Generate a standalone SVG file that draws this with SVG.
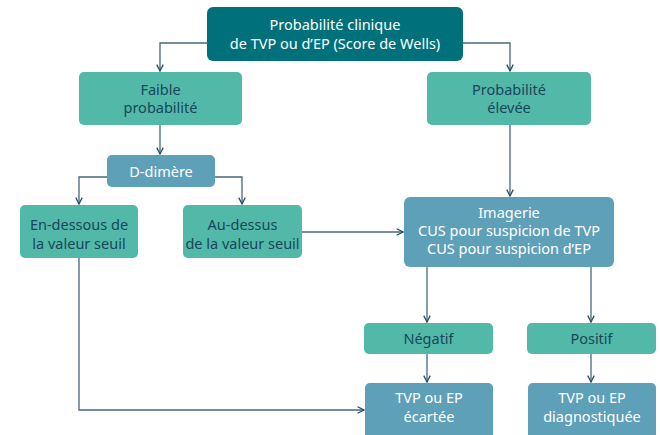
<svg xmlns="http://www.w3.org/2000/svg" width="660" height="435" viewBox="0 0 660 435">
  <defs>
    <marker id="arrow" viewBox="0 0 10 10" refX="9" refY="5" markerWidth="8" markerHeight="8" markerUnits="userSpaceOnUse" orient="auto">
      <path d="M1,1 L9,5 L1,9" fill="none" stroke="#244f60" stroke-width="1.6"/>
    </marker>
  </defs>
  <style>
    .dark { fill: #00717b; }
    .green { fill: #52b9a9; }
    .blue { fill: #5fa0b9; }
    text { font-family: "Noto Sans", "Open Sans", sans-serif; font-size: 14.5px; text-anchor: middle; }
    .light { fill: #ffffff; }
    .ink { fill: #17475a; }
    .edge { fill: none; stroke: #46697a; stroke-width: 1.3; }
  </style>
  <rect width="660" height="435" fill="#ffffff"/>

  <g id="connectors">
    <path class="edge" d="M207,43 H160 V71" marker-end="url(#arrow)"/>
    <path class="edge" d="M463,43 H510 V71" marker-end="url(#arrow)"/>
    <path class="edge" d="M160,125 V154" marker-end="url(#arrow)"/>
    <path class="edge" d="M107,177 H79 V204" marker-end="url(#arrow)"/>
    <path class="edge" d="M215,177 H242 V204" marker-end="url(#arrow)"/>
    <path class="edge" d="M302,232 H403" marker-end="url(#arrow)"/>
    <path class="edge" d="M510,125 V196" marker-end="url(#arrow)"/>
    <path class="edge" d="M427,267 V322" marker-end="url(#arrow)"/>
    <path class="edge" d="M591,267 V322" marker-end="url(#arrow)"/>
    <path class="edge" d="M427,354 V382" marker-end="url(#arrow)"/>
    <path class="edge" d="M591,354 V382" marker-end="url(#arrow)"/>
    <path class="edge" d="M79,258 V410 H364" marker-end="url(#arrow)"/>
  </g>

  <g id="wells">
    <rect class="dark" x="207" y="7" width="256" height="54" rx="6"/>
    <text class="light" x="335" y="30">Probabilité clinique</text>
    <text class="light" x="335" y="49">de TVP ou d’EP (Score de Wells)</text>
  </g>

  <g id="faible">
    <rect class="green" x="79" y="72" width="163" height="53" rx="5"/>
    <text class="ink" x="160.5" y="95">Faible</text>
    <text class="ink" x="160.5" y="113">probabilité</text>
  </g>

  <g id="elevee">
    <rect class="green" x="427" y="72" width="164" height="53" rx="5"/>
    <text class="ink" x="509" y="95">Probabilité</text>
    <text class="ink" x="509" y="113">élevée</text>
  </g>

  <g id="ddimere">
    <rect class="blue" x="107" y="155" width="108" height="32" rx="5"/>
    <text class="light" x="161" y="177">D-dimère</text>
  </g>

  <g id="dessous">
    <rect class="green" x="20" y="205" width="118" height="53" rx="5"/>
    <text class="ink" x="79" y="230">En-dessous de</text>
    <text class="ink" x="79" y="249">la valeur seuil</text>
  </g>

  <g id="dessus">
    <rect class="green" x="183" y="205" width="119" height="53" rx="5"/>
    <text class="ink" x="242.5" y="230">Au-dessus</text>
    <text class="ink" x="242.5" y="249">de la valeur seuil</text>
  </g>

  <g id="imagerie">
    <rect class="blue" x="404" y="197" width="210" height="70" rx="6"/>
    <text class="light" x="509" y="218">Imagerie</text>
    <text class="light" x="509" y="236">CUS pour suspicion de TVP</text>
    <text class="light" x="509" y="254">CUS pour suspicion d’EP</text>
  </g>

  <g id="negatif">
    <rect class="green" x="364" y="323" width="129" height="31" rx="5"/>
    <text class="ink" x="428.5" y="344">Négatif</text>
  </g>

  <g id="positif">
    <rect class="green" x="527" y="323" width="129" height="31" rx="5"/>
    <text class="ink" x="591.5" y="344">Positif</text>
  </g>

  <g id="ecartee">
    <rect class="blue" x="365" y="383" width="128" height="60" rx="5"/>
    <text class="light" x="429" y="403">TVP ou EP</text>
    <text class="light" x="429" y="422">écartée</text>
  </g>

  <g id="diagnostiquee">
    <rect class="blue" x="528" y="383" width="128" height="60" rx="5"/>
    <text class="light" x="592" y="403">TVP ou EP</text>
    <text class="light" x="592" y="422">diagnostiquée</text>
  </g>
</svg>
